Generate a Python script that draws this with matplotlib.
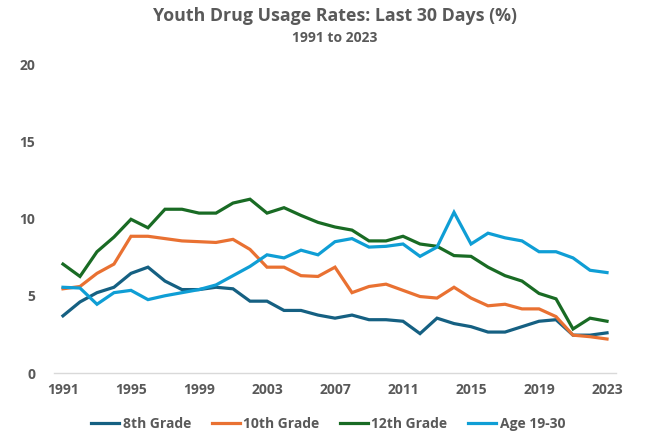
import numpy as np
import matplotlib.pyplot as plt

plt.rcParams['font.family'] = ['Open Sans', 'DejaVu Sans']
plt.rcParams['font.weight'] = 'bold'

years = list(range(1991, 2024))

grade8 = [3.7, 4.6, 5.2, 5.55, 6.45, 6.85, 5.95, 5.4, 5.4, 5.55, 5.45, 4.65, 4.65, 4.05, 4.05,
          3.75, 3.55, 3.75, 3.45, 3.45, 3.35, 2.55, 3.55, 3.2, 3.0, 2.65, 2.65, 3.0, 3.35, 3.45,
          2.45, 2.45, 2.6]
grade10 = [5.45, 5.6, 6.45, 7.05, 8.85, 8.85, 8.7, 8.55, 8.5, 8.45, 8.65, 8.0, 6.85, 6.85, 6.3,
           6.25, 6.85, 5.2, 5.6, 5.75, 5.35, 4.95, 4.85, 5.55, 4.85, 4.35, 4.45, 4.15, 4.15, 3.65,
           2.45, 2.35, 2.2]
grade12 = [7.05, 6.25, 7.85, 8.8, 9.95, 9.4, 10.6, 10.6, 10.35, 10.35, 11.0, 11.25, 10.35, 10.7,
           10.2, 9.75, 9.45, 9.25, 8.55, 8.55, 8.85, 8.35, 8.2, 7.6, 7.55, 6.85, 6.3, 5.95, 5.15,
           4.8, 2.85, 3.55, 3.35]
age19_30 = [5.55, 5.5, 4.45, 5.2, 5.35, 4.75, 5.0, 5.2, 5.4, 5.7, 6.3, 6.9, 7.65, 7.45, 7.95,
            7.65, 8.5, 8.7, 8.15, 8.2, 8.35, 7.55, 8.15, 10.4, 8.35, 9.05, 8.75, 8.55, 7.85, 7.85,
            7.45, 6.65, 6.5]

series = [('8th Grade', grade8, '#156082'),
          ('10th Grade', grade10, '#E97132'),
          ('12th Grade', grade12, '#196B24'),
          ('Age 19-30', age19_30, '#0F9ED5')]

grey = '#595959'

fig = plt.figure(figsize=(6.7, 4.43), dpi=100)
ax = fig.add_axes([0.0813, 0.158, 0.8374, 0.6975])

for name, vals, col in series:
    ax.plot(years, vals, color=col, lw=2.3, label=name, solid_joinstyle='miter')

ax.set_xlim(1990.5, 2023.5)
ax.set_ylim(0, 20)
ax.set_xticks(list(range(1991, 2024, 4)))
ax.set_yticks([0, 5, 10, 15, 20])

for s in ['top', 'right', 'left']:
    ax.spines[s].set_visible(False)
ax.spines['bottom'].set_color('#d9d9d9')
ax.spines['bottom'].set_linewidth(1)
ax.tick_params(axis='both', length=0, labelsize=10, labelcolor=grey)
ax.tick_params(axis='y', pad=14)
ax.tick_params(axis='x', pad=7)

fig.text(0.5, 0.965, 'Youth Drug Usage Rates: Last 30 Days (%)', ha='center', va='center',
         fontsize=12.8, color=grey, fontweight='bold')
fig.text(0.5, 0.915, '1991 to 2023', ha='center', va='center',
         fontsize=10, color=grey, fontweight='bold')

leg = fig.legend(loc='center', bbox_to_anchor=(0.49, 0.043), ncol=4, frameon=False,
                 fontsize=10, handlelength=2.0, handletextpad=0.25, columnspacing=1.5)
for t in leg.get_texts():
    t.set_color(grey)

fig.savefig('out.png', dpi=100)
